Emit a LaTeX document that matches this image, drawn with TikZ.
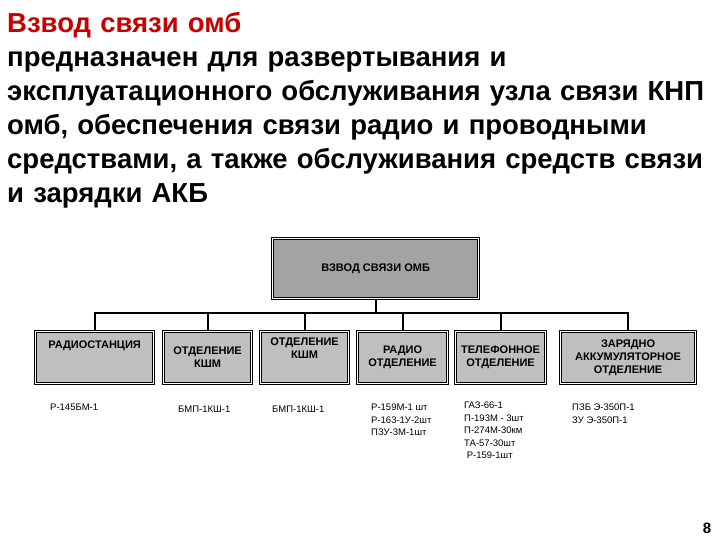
\documentclass[tikz,border=0pt]{standalone}
\usepackage{fontspec}
\setmainfont{Liberation Sans}
\begin{document}
\begin{tikzpicture}[x=1pt,y=-1pt,
 box/.style={draw=black,line width=1.2pt,fill=gray!50,double=white,double distance=0.8pt,inner sep=0pt,font=\bfseries\fontsize{11}{13}\selectfont,align=center},
 info/.style={font=\fontsize{9.5}{12.5}\selectfont,align=left,anchor=north west,inner sep=0pt},
 conn/.style={line width=2pt}]
\useasboundingbox (0,0) rectangle (720,540);
\node[anchor=north west,inner sep=0pt,align=left,text width=715pt,font=\bfseries\fontsize{27.5}{34}\selectfont] (title) at (7,12)
 {\textcolor[RGB]{200,0,0}{Взвод связи омб}\\предназначен для развертывания и\\эксплуатационного обслуживания узла связи КНП\\омб, обеспечения связи радио и проводными\\средствами, а также обслуживания средств связи\\и зарядки АКБ};
\node[box,fill=gray!72,minimum width=206pt,minimum height=60pt,anchor=north west] (top) at (272,238) {ВЗВОД СВЯЗИ ОМБ};
\foreach \n/\x/\w/\t in {a/35/118/{РАДИОСТАНЦИЯ\\[1.2em]},b/163/88/{ОТДЕЛЕНИЕ\\КШМ},c/260/88/{ОТДЕЛЕНИЕ\\КШМ\\[0.5em]},d/357/90/{РАДИО\\ОТДЕЛЕНИЕ},e/455/90/{ТЕЛЕФОННОЕ\\ОТДЕЛЕНИЕ},f/560/135/{ЗАРЯДНО\\АККУМУЛЯТОРНОЕ\\ОТДЕЛЕНИЕ}}
 \node[box,minimum width=\w pt,minimum height=52pt,anchor=north west] (\n) at (\x,331) {\t};
\coordinate (bus) at (top.south |- 0,313);
\draw[conn] (top.south) -- (bus);
\draw[conn] (a.north) |- (bus) -| (f.north);
\foreach \n in {b,c,d,e} \draw[conn] (\n.north) -- (\n.north |- bus);
\node[info] (ia) at (50,404) {Р-145БМ-1};
\node[info] (ib) at (178,406) {БМП-1КШ-1};
\node[info] (ic) at (272,406) {БМП-1КШ-1};
\node[info] (id) at (371,404) {Р-159М-1 шт\\Р-163-1У-2шт\\ПЗУ-3М-1шт};
\node[info] (ie) at (464,402) {ГАЗ-66-1\\П-193М - 3шт\\П-274М-30км\\ТА-57-30шт\\\ Р-159-1шт};
\node[info] (if) at (572,404) {ПЗБ Э-350П-1\\ЗУ Э-350П-1};
\node[font=\bfseries\fontsize{15}{16}\selectfont,inner sep=0pt] (pg) at (707,528) {8};
\end{tikzpicture}
\end{document}
